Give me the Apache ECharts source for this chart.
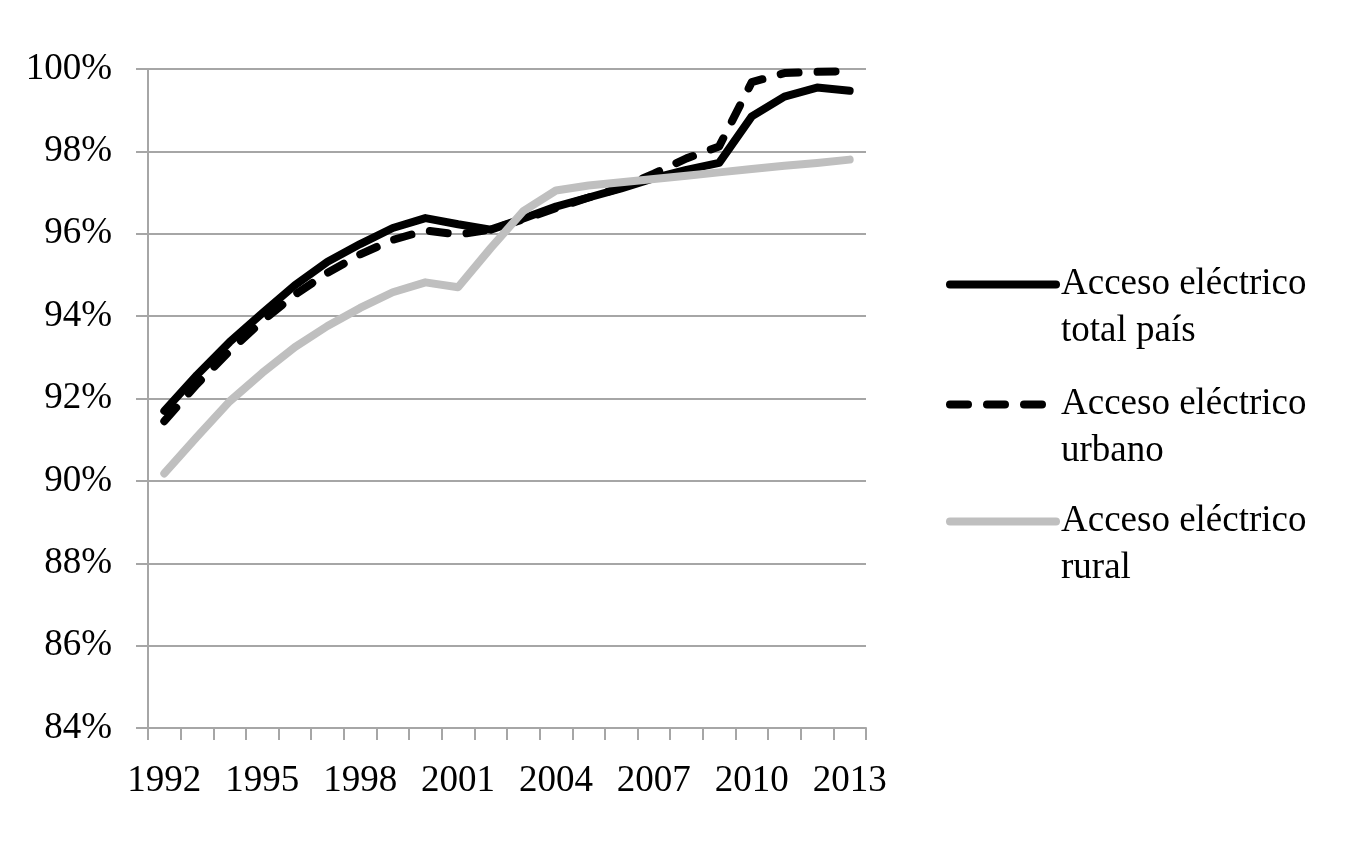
<!DOCTYPE html>
<html>
<head>
<meta charset="utf-8">
<script src="https://cdn.jsdelivr.net/npm/echarts@6/dist/echarts.min.js"></script>
<style>
  html, body { margin: 0; padding: 0; background: #fff; }
  #content { width: 1358px; height: 844px; }
</style>
</head>
<body>
<div id="content"></div>
<script>
// años (eje x)
var years = ['1992', '1993', '1994', '1995', '1996', '1997', '1998', '1999', '2000', '2001', '2002',
             '2003', '2004', '2005', '2006', '2007', '2008', '2009', '2010', '2011', '2012', '2013'];

// valores en %
var totalPais = [91.7, 92.57, 93.37, 94.07, 94.75, 95.32, 95.75, 96.14, 96.38, 96.23, 96.1,
                 96.37, 96.66, 96.88, 97.1, 97.35, 97.55, 97.72, 98.85, 99.33, 99.55, 99.47];
var urbano = [91.45, 92.35, 93.15, 93.88, 94.52, 95.05, 95.5, 95.85, 96.08, 95.98, 96.1,
              96.35, 96.62, 96.88, 97.12, 97.46, 97.83, 98.12, 99.68, 99.9, 99.93, 99.95];
var rural = [90.18, 91.07, 91.93, 92.62, 93.25, 93.76, 94.2, 94.58, 94.82, 94.7, 95.65,
             96.55, 97.05, 97.17, 97.25, 97.33, 97.41, 97.49, 97.57, 97.65, 97.72, 97.8];

var seriesNames = ['Acceso eléctrico\ntotal país', 'Acceso eléctrico\nurbano', 'Acceso eléctrico\nrural'];

var font = '"Liberation Serif", "Times New Roman", serif';
var gridColor = '#a6a6a6';
var lineW = 8;

var myChart = echarts.init(document.getElementById('content'));

// leyenda: una por serie, el icono alineado con la primera línea del texto
function makeLegend(name, top) {
    return {
        data: [name],
        orient: 'vertical',
        left: 946,
        top: top,
        padding: 0,
        itemWidth: 106,
        itemHeight: 14,
        selectedMode: false,
        itemStyle: { opacity: 0 },
        lineStyle: { width: lineW, cap: 'round' },
        formatter: function (n) { return ' \n' + n; },
        textStyle: { fontFamily: font, fontSize: 37, color: '#000', lineHeight: 47 }
    };
}

var option = {
    animation: false,
    backgroundColor: '#fff',
    grid: { left: 148, right: 492, top: 69, bottom: 116 },
    legend: [
        makeLegend(seriesNames[0], 214),
        makeLegend(seriesNames[1], 334),
        makeLegend(seriesNames[2], 451)
    ],
    xAxis: {
        type: 'category',
        data: years,
        boundaryGap: true,
        axisLine: { lineStyle: { color: gridColor, width: 2 } },
        axisTick: { show: true, interval: 0, length: 12, lineStyle: { color: gridColor, width: 2 } },
        axisLabel: { interval: 2, margin: 35, fontFamily: font, fontSize: 37, color: '#000' },
        splitLine: { show: false }
    },
    yAxis: {
        type: 'value',
        min: 84,
        max: 100,
        interval: 2,
        axisLine: { show: true, lineStyle: { color: gridColor, width: 2 } },
        axisTick: { show: true, length: 12, lineStyle: { color: gridColor, width: 2 } },
        axisLabel: { formatter: '{value}%', margin: 36, fontFamily: font, fontSize: 37, color: '#000' },
        splitLine: { show: true, lineStyle: { color: gridColor, width: 2 } }
    },
    series: [
        {
            name: seriesNames[0],
            type: 'line',
            data: totalPais,
            symbol: 'none',
            lineStyle: { color: '#000', width: lineW, cap: 'round', join: 'round' },
            itemStyle: { color: '#000' }
        },
        {
            name: seriesNames[1],
            type: 'line',
            data: urbano,
            symbol: 'none',
            lineStyle: { color: '#000', width: lineW, type: [18, 19], cap: 'round', join: 'round' },
            itemStyle: { color: '#000' }
        },
        {
            name: seriesNames[2],
            type: 'line',
            data: rural,
            symbol: 'none',
            lineStyle: { color: '#bfbfbf', width: lineW, cap: 'round', join: 'round' },
            itemStyle: { color: '#bfbfbf' }
        }
    ]
};

myChart.setOption(option);
</script>
</body>
</html>
